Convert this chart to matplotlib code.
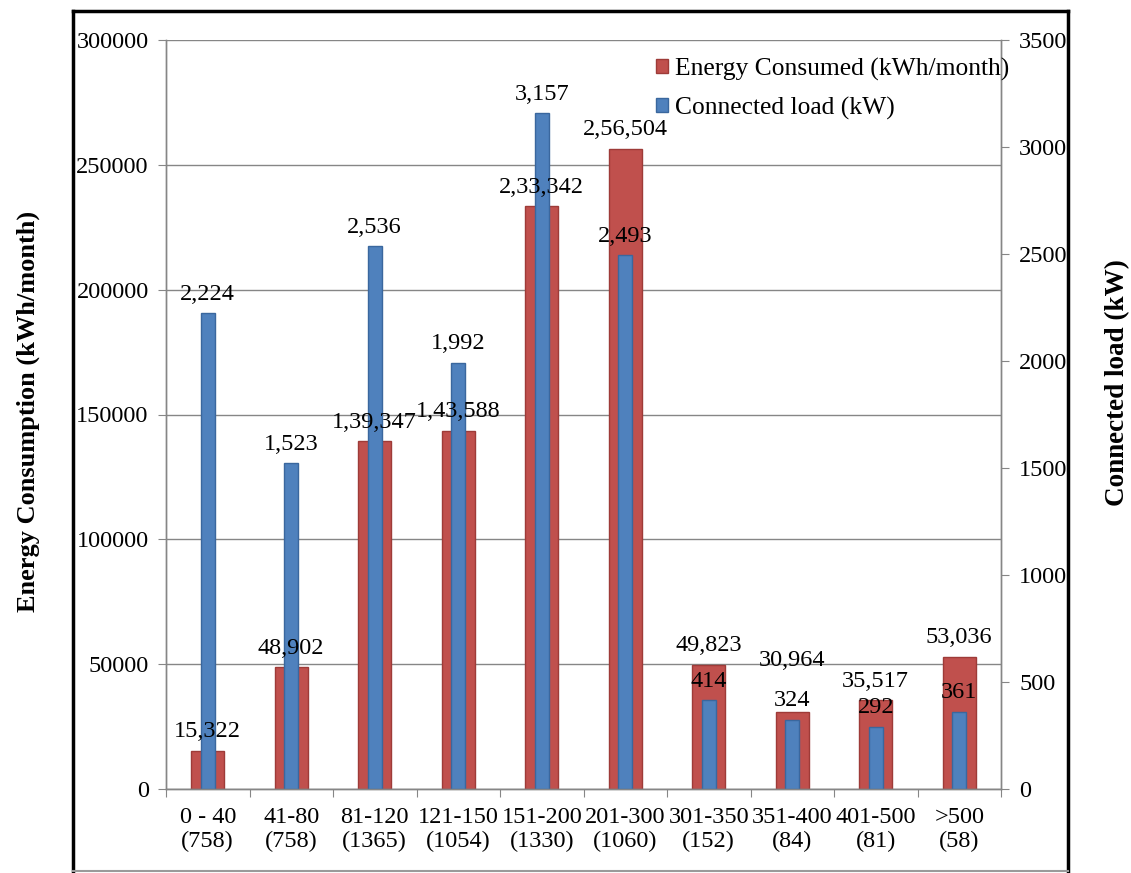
import numpy as np
import matplotlib
matplotlib.use("Agg")
import matplotlib.pyplot as plt
from matplotlib.lines import Line2D
from matplotlib.patches import Patch

plt.rcParams["font.family"] = ["Liberation Serif", "DejaVu Serif"]

# Consumption slabs (units/month) with number of consumers in brackets
categories = ["0 - 40\n(758)", "41-80\n(758)", "81-120\n(1365)", "121-150\n(1054)",
              "151-200\n(1330)", "201-300\n(1060)", "301-350\n(152)", "351-400\n(84)",
              "401-500\n(81)", ">500\n(58)"]
energy_kwh = [15322, 48902, 139347, 143588, 233342, 256504, 49823, 30964, 35517, 53036]
load_kw = [2224, 1523, 2536, 1992, 3157, 2493, 414, 324, 292, 361]

left_ticks = [0, 50000, 100000, 150000, 200000, 250000, 300000]
right_ticks = [0, 500, 1000, 1500, 2000, 2500, 3000, 3500]

RED = "#C0504D"
RED_EDGE = "#9E3B38"
BLUE = "#4F81BD"
BLUE_EDGE = "#3A679E"
AXIS_GREY = "#868686"
FS = 17.5


def indian_format(v):
    """Group digits Indian-style: last three, then pairs (e.g. 2,56,504)."""
    s = str(int(v))
    if len(s) <= 3:
        return s
    head, tail = s[:-3], s[-3:]
    parts = []
    while len(head) > 2:
        parts.insert(0, head[-2:])
        head = head[:-2]
    if head:
        parts.insert(0, head)
    return ",".join(parts) + "," + tail


W, H = 1131, 873
fig = plt.figure(figsize=(W / 100, H / 100), dpi=100)
fig.patch.set_facecolor("white")

ax1 = fig.add_axes([166 / W, 1 - 789 / H, (1001 - 166) / W, (789 - 40) / H])
ax2 = ax1.twinx()

x = np.arange(len(categories))

ax1.set_axisbelow(True)
ax1.bar(x, energy_kwh, width=0.4, color=RED, edgecolor=RED_EDGE, linewidth=1.0,
        label="Energy Consumed (kWh/month)", zorder=2)
ax2.bar(x, load_kw, width=0.17, color=BLUE, edgecolor=BLUE_EDGE, linewidth=1.0,
        label="Connected load (kW)", zorder=2)

ax1.set_xlim(-0.5, len(categories) - 0.5)
ax1.set_ylim(0, 300000)
ax2.set_ylim(0, 3500)

ax1.set_yticks(left_ticks)
ax1.set_yticklabels([str(t) for t in left_ticks])
ax2.set_yticks(right_ticks)
ax2.set_yticklabels([str(t) for t in right_ticks])
ax1.yaxis.grid(True, color=AXIS_GREY, linewidth=1.0)
ax1.xaxis.grid(False)

# category boundaries carry the tick marks, labels sit at the centres
ax1.set_xticks(np.arange(-0.5, len(categories), 1.0))
ax1.set_xticklabels([])
ax1.set_xticks(x, minor=True)
ax1.set_xticklabels(categories, minor=True, fontsize=FS, linespacing=1.15)
ax1.tick_params(axis="x", which="major", direction="out", length=6, color=AXIS_GREY)
ax1.tick_params(axis="x", which="minor", length=0, pad=13)
ax1.tick_params(axis="y", direction="out", length=6, color=AXIS_GREY, labelsize=FS, pad=6.5)
ax2.tick_params(axis="y", direction="out", length=6, color=AXIS_GREY, labelsize=FS, pad=7)

for a in (ax1, ax2):
    a.spines["top"].set_visible(False)
    for side in ("left", "right", "bottom"):
        a.spines[side].set_color(AXIS_GREY)
        a.spines[side].set_linewidth(1.0)

# value labels above each bar, drawn over everything
energy_label_lift = [6, 6, 6, 6, 6, 6, 6, 29, 6, 6]
for xi, v, dy in zip(x, energy_kwh, energy_label_lift):
    ax2.annotate(indian_format(v), xy=(xi, v), xycoords=ax1.transData,
                 xytext=(0, dy), textcoords="offset points",
                 ha="center", va="bottom", fontsize=FS, zorder=5)
for xi, v in zip(x, load_kw):
    ax2.annotate(indian_format(v), xy=(xi, v), xycoords=ax2.transData,
                 xytext=(0, 6), textcoords="offset points",
                 ha="center", va="bottom", fontsize=FS, zorder=5)

handles = [Patch(facecolor=RED, edgecolor=RED_EDGE),
           Patch(facecolor=BLUE, edgecolor=BLUE_EDGE)]
labels = ["Energy Consumed (kWh/month)", "Connected load (kW)"]
leg = ax2.legend(handles, labels, loc="upper left", bbox_to_anchor=(0.574, 0.99),
                 frameon=False, fontsize=18.4, handlelength=0.48, handleheight=0.48,
                 handletextpad=0.3, labelspacing=0.62, borderaxespad=0)
leg.set_zorder(6)

fig.text(28 / W, 1 - 411 / H, "Energy Consumption (kWh/month)", rotation=90,
         ha="center", va="center", fontsize=19, fontweight="bold")
fig.text(1118 / W, 1 - 383 / H, "Connected load (kW)", rotation=90,
         ha="center", va="center", fontsize=19.5, fontweight="bold")

# outer chart frame
fx0, fx1 = 73 / W, 1068 / W
fy0, fy1 = 1 - 871 / H, 1 - 11 / H
for xs, ys, c, lw in [([fx0, fx0], [fy0, fy1], "black", 2.5),
                      ([fx0, fx1], [fy1, fy1], "black", 2.5),
                      ([fx1, fx1], [fy0, fy1], "black", 2.5),
                      ([fx0, fx1], [fy0, fy0], "#9a9a9a", 1.5)]:
    fig.add_artist(Line2D(xs, ys, transform=fig.transFigure, color=c, linewidth=lw))

fig.savefig("out.png", dpi=100)
